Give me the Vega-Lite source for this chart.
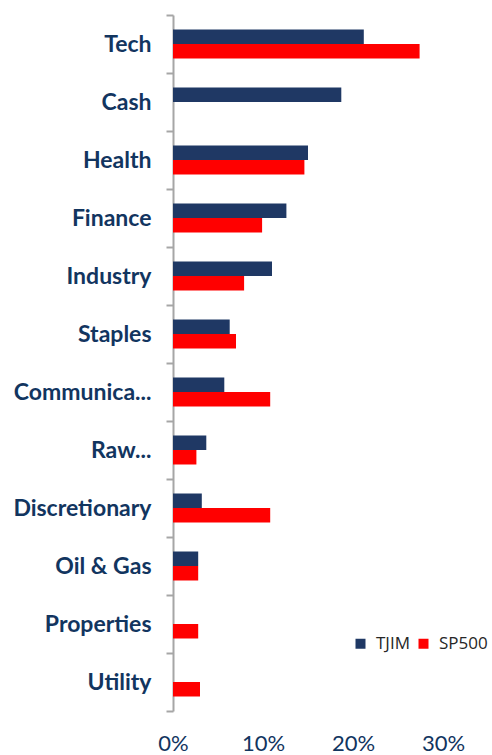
{
  "$schema": "https://vega.github.io/schema/vega-lite/v6.json",
  "autosize": "none",
  "width": 270,
  "height": 696,
  "padding": {"left": 173, "top": 15, "right": 49, "bottom": 44},
  "background": "white",
  "data": {
    "values": [
      {"sector": "Tech", "series": "TJIM", "weight": 0.212},
      {"sector": "Tech", "series": "SP500", "weight": 0.274},
      {"sector": "Cash", "series": "TJIM", "weight": 0.187},
      {"sector": "Health", "series": "TJIM", "weight": 0.150},
      {"sector": "Health", "series": "SP500", "weight": 0.146},
      {"sector": "Finance", "series": "TJIM", "weight": 0.126},
      {"sector": "Finance", "series": "SP500", "weight": 0.099},
      {"sector": "Industry", "series": "TJIM", "weight": 0.110},
      {"sector": "Industry", "series": "SP500", "weight": 0.079},
      {"sector": "Staples", "series": "TJIM", "weight": 0.063},
      {"sector": "Staples", "series": "SP500", "weight": 0.070},
      {"sector": "Communications", "series": "TJIM", "weight": 0.057},
      {"sector": "Communications", "series": "SP500", "weight": 0.108},
      {"sector": "Raw Materials", "series": "TJIM", "weight": 0.037},
      {"sector": "Raw Materials", "series": "SP500", "weight": 0.026},
      {"sector": "Discretionary", "series": "TJIM", "weight": 0.032},
      {"sector": "Discretionary", "series": "SP500", "weight": 0.108},
      {"sector": "Oil & Gas", "series": "TJIM", "weight": 0.028},
      {"sector": "Oil & Gas", "series": "SP500", "weight": 0.028},
      {"sector": "Properties", "series": "SP500", "weight": 0.028},
      {"sector": "Utility", "series": "SP500", "weight": 0.030}
    ]
  },
  "mark": {"type": "bar"},
  "encoding": {
    "y": {
      "field": "sector",
      "type": "nominal",
      "sort": ["Tech", "Cash", "Health", "Finance", "Industry", "Staples", "Communications", "Raw Materials", "Discretionary", "Oil & Gas", "Properties", "Utility"],
      "scale": {"paddingInner": 0, "paddingOuter": 0},
      "axis": {
        "title": null,
        "tickBand": "extent",
        "domainColor": "#A6A6A6",
        "domainWidth": 2,
        "tickColor": "#A6A6A6",
        "tickWidth": 2,
        "tickSize": 7,
        "labelPadding": 15,
        "labelFont": "Lato",
        "labelFontWeight": "bold",
        "labelFontSize": 23,
        "labelColor": "#12355F",
        "labelLimit": 300,
        "labelExpr": "datum.value == 'Communications' ? 'Communica...' : datum.value == 'Raw Materials' ? 'Raw...' : datum.value"
      }
    },
    "yOffset": {
      "field": "series",
      "type": "nominal",
      "sort": ["TJIM", "SP500"],
      "scale": {"paddingInner": 0, "paddingOuter": 1.07}
    },
    "x": {
      "field": "weight",
      "type": "quantitative",
      "scale": {"domain": [0, 0.3], "nice": false},
      "axis": {
        "title": null,
        "values": [0, 0.1, 0.2, 0.3],
        "format": ".0%",
        "domain": false,
        "ticks": false,
        "grid": false,
        "labelFlush": false,
        "labelOverlap": false,
        "labelPadding": 22,
        "labelFont": "Lato",
        "labelFontSize": 22,
        "labelColor": "#12355F"
      }
    },
    "color": {
      "field": "series",
      "type": "nominal",
      "sort": ["TJIM", "SP500"],
      "scale": {"domain": ["TJIM", "SP500"], "range": ["#1F3864", "#FF0000"]},
      "legend": {
        "title": null,
        "orient": "none",
        "legendX": 179,
        "legendY": 620,
        "padding": 0,
        "direction": "horizontal",
        "symbolType": "square",
        "symbolSize": 100,
        "symbolStrokeWidth": 0,
        "labelFont": "Open Sans",
        "labelFontSize": 17,
        "labelColor": "#262626",
        "labelLimit": 100,
        "columnPadding": 5,
        "labelOffset": 7
      }
    }
  },
  "config": {"view": {"stroke": null}}
}
